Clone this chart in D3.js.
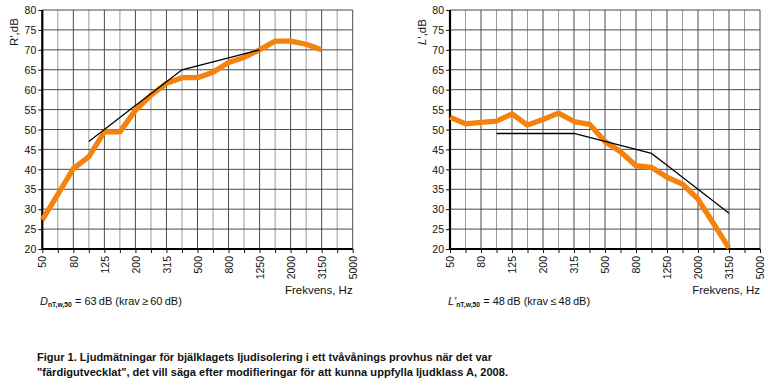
<!DOCTYPE html>
<html><head><meta charset="utf-8">
<script src="https://cdn.jsdelivr.net/npm/d3@7"></script>
<style>
html,body{margin:0;padding:0;background:#fff;}
svg{display:block;font-family:"Liberation Sans",Arial,sans-serif;}
</style></head>
<body>
<svg id="c" width="768" height="388"></svg>
<script>
const freqs = ["50","63","80","100","125","160","200","250","315","400","500","630","800","1000","1250","1600","2000","2500","3150","4000","5000"];
const tickLabels = ["50","80","125","200","315","500","800","1250","2000","3150","5000"];
const yTicks = [20,25,30,35,40,45,50,55,60,65,70,75,80];

// Left: airborne sound insulation R'
const airFreqs = ["50","63","80","100","125","160","200","250","315","400","500","630","800","1000","1250","1600","2000","2500","3150"];
const airMeasured = [27.3,33.7,40.2,43.2,49.4,49.4,54.8,58.6,61.6,63,63,64.4,66.8,68.1,70,72.2,72.2,71.4,70];
const airRefFreqs = ["100","125","160","200","250","315","400","500","630","800","1000","1250"];
const airRef = [47,50,53,56,59,62,65,66,67,68,69,70];

// Right: impact sound L'
const impFreqs = ["50","63","80","100","125","160","200","250","315","400","500","630","800","1000","1250","1600","2000","2500","3150"];
const impMeasured = [53.1,51.4,51.8,52.1,53.9,51.1,52.5,54.1,52,51.3,47,44.4,40.9,40.5,38,36.3,32.5,26.4,20.2];
const impRefFreqs = ["100","125","160","200","250","315","400","500","630","800","1000","1250","1600","2000","2500","3150"];
const impRef = [49,49,49,49,49,49,48,47,46,45,44,41,38,35,32,29];

const svg = d3.select("#c");
const ORANGE = "#f5820d";

function panel(x0, x1, yLabel, mFreqs, mVals, rFreqs, rVals, labelItalicFirst) {
  const yTop = 10, yBot = 249;
  const x = d3.scalePoint().domain(freqs).range([x0, x1]);
  const y = d3.scaleLinear().domain([20, 80]).range([yBot, yTop]);
  const g = svg.append("g");

  // grid
  g.append("g").selectAll("line").data(freqs).join("line")
    .attr("x1", d => x(d)).attr("x2", d => x(d)).attr("y1", yTop).attr("y2", yBot)
    .attr("stroke", (d,i) => i % 2 ? "#9a9a9a" : "#4a4a4a").attr("stroke-width", 1);
  g.append("g").selectAll("line").data(yTicks).join("line")
    .attr("x1", x0).attr("x2", x1).attr("y1", d => y(d)).attr("y2", d => y(d))
    .attr("stroke", "#4a4a4a").attr("stroke-width", 1);

  // axes
  const yAxis = d3.axisLeft(y).tickValues(yTicks).tickSize(4).tickPadding(2);
  const ya = g.append("g").attr("transform", `translate(${x0},0)`).call(yAxis);
  ya.select(".domain").remove();
  ya.selectAll("text").attr("font-size", 10.5).attr("fill", "#111").attr("dy", "0.35em").attr("font-family", "Liberation Sans, Arial, sans-serif");
  ya.selectAll("line").attr("stroke", "#111");

  const xAxis = d3.axisBottom(x).tickSize(4).tickFormat(d => tickLabels.includes(d) ? d : "");
  const xa = g.append("g").attr("transform", `translate(0,${yBot})`).call(xAxis);
  xa.select(".domain").remove();
  xa.selectAll("line").attr("stroke", "#111");
  xa.selectAll("text").attr("font-size", 10.5).attr("fill", "#111")
    .attr("font-family", "Liberation Sans, Arial, sans-serif")
    .attr("transform", "rotate(-90)").attr("text-anchor", "end")
    .attr("x", -7).attr("y", 0).attr("dy", "0.35em");

  g.append("line").attr("x1", x0).attr("x2", x0).attr("y1", yTop).attr("y2", yBot + 1)
    .attr("stroke", "#000").attr("stroke-width", 2.2);
  g.append("line").attr("x1", x0).attr("x2", x1).attr("y1", yBot).attr("y2", yBot)
    .attr("stroke", "#000").attr("stroke-width", 2.2);

  // lines
  const line = d3.line().x(d => x(d[0])).y(d => y(d[1]));
  g.append("path").datum(mFreqs.map((f,i) => [f, mVals[i]]))
    .attr("d", line).attr("fill", "none").attr("stroke", ORANGE)
    .attr("stroke-width", 5.3).attr("stroke-linejoin", "round");
  g.append("path").datum(rFreqs.map((f,i) => [f, rVals[i]]))
    .attr("d", line).attr("fill", "none").attr("stroke", "#000")
    .attr("stroke-width", 1.3);

  // y label
  const yl = g.append("text").attr("transform", `translate(${x0 - 24},${yTop + 22}) rotate(-90)`)
    .attr("text-anchor", "middle").attr("font-size", 11.5).attr("fill", "#111");
  yl.append("tspan").attr("font-style", labelItalicFirst ? "italic" : "normal").text(yLabel[0]);
  yl.append("tspan").text(yLabel.slice(1));

  // x label
  g.append("text").attr("x", x1).attr("y", 294).attr("text-anchor", "end")
    .attr("font-size", 11.5).attr("fill", "#111").text("Frekvens, Hz");
  return g;
}

const gl = panel(42.3, 352.7, "R',dB", airFreqs, airMeasured, airRefFreqs, airRef, false);
const gr = panel(450, 760, "L',dB", impFreqs, impMeasured, impRefFreqs, impRef, true);

function formula(g, xPos, main, rest) {
  const t = g.append("text").attr("x", xPos).attr("y", 305).attr("font-size", 11).attr("fill", "#111");
  t.append("tspan").attr("font-style", "italic").text(main);
  t.append("tspan").attr("font-size", 6.8).attr("font-weight", "bold").attr("dy", 2).text("nT,w,50");
  t.append("tspan").attr("dy", -2).text(rest);
}
formula(gl, 40, "D", " = 63\u2009dB (krav\u2009\u2265\u200960\u2009dB)");
formula(gr, 448, "L'", " = 48\u2009dB (krav\u2009\u2264\u200948\u2009dB)");

const caption = [
  "Figur 1. Ljudmätningar för bjälklagets ljudisolering i ett tvåvånings provhus när det var",
  "\"färdigutvecklat\", det vill säga efter modifieringar för att kunna uppfylla ljudklass A, 2008."
];
const capW = [455, 471];
svg.append("g").selectAll("text").data(caption).join("text")
  .attr("x", 37).attr("y", (d,i) => 361 + i * 15)
  .attr("font-size", 11).attr("font-weight", "bold").attr("fill", "#111")
  .attr("textLength", (d,i) => capW[i]).attr("lengthAdjust", "spacingAndGlyphs")
  .text(d => d);
</script>
</body></html>
